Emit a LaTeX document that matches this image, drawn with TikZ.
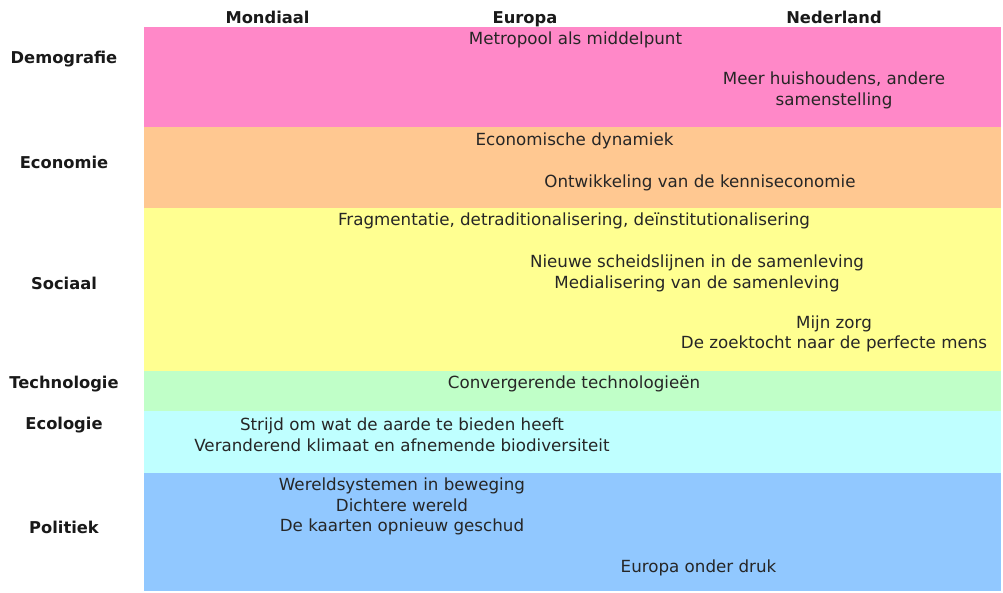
\documentclass[tikz,border=0pt]{standalone}
\usepackage{fontspec}
\setmainfont{DejaVu Sans}

\definecolor{demopink}{HTML}{FF88C8}
\definecolor{econorange}{HTML}{FFC891}
\definecolor{socyellow}{HTML}{FFFF91}
\definecolor{techgreen}{HTML}{C0FFC8}
\definecolor{ecocyan}{HTML}{BFFFFF}
\definecolor{polblue}{HTML}{91C8FF}

\begin{document}
\begin{tikzpicture}[x=1pt, y=-1pt,
    item/.style={font=\fontsize{16.7}{20.5}\selectfont, align=center, inner sep=0pt, text=black!85},
    head/.style={font=\bfseries\fontsize{16.3}{18}\selectfont, inner sep=0pt, text=black!90}]
	\useasboundingbox (0,0) rectangle (1003,592);
	
	% Coloured bands, one per theme
	\fill[demopink]   (144,27)  rectangle (1001,127);
	\fill[econorange] (144,127) rectangle (1001,208);
	\fill[socyellow]  (144,208) rectangle (1001,371);
	\fill[techgreen]  (144,371) rectangle (1001,411);
	\fill[ecocyan]    (144,411) rectangle (1001,473);
	\fill[polblue]    (144,473) rectangle (1001,591);
	
	% Column headers (on one baseline)
	\node[head, anchor=base] (mondiaal)  at (267.5,23) {Mondiaal};
	\node[head, anchor=base] (europa)    at (525,23)   {Europa};
	\node[head, anchor=base] (nederland) at (834,23)   {Nederland};
	
	% Row headers
	\node[head] (demografie)  at (64,59)  {Demografie};
	\node[head] (economie)    at (64,162) {Economie};
	\node[head] (sociaal)     at (64,283) {Sociaal};
	\node[head] (technologie) at (64,384) {Technologie};
	\node[head] (ecologie)    at (64,425) {Ecologie};
	\node[head] (politiek)    at (64,527) {Politiek};
	
	% Demografie
	\node[item] (metropool) at (575.5,40)  {Metropool als middelpunt};
	\node[item] (huishouden) at (834,90.5) {Meer huishoudens, andere\\samenstelling};
	
	% Economie
	\node[item] (dynamiek) at (574.5,141) {Economische dynamiek};
	\node[item] (kennis)   at (700,183)   {Ontwikkeling van de kenniseconomie};
	
	% Sociaal
	\node[item] (fragment) at (574,221)   {Fragmentatie, detraditionalisering, deïnstitutionalisering};
	\node[item] (scheids)  at (697,273.5) {Nieuwe scheidslijnen in de samenleving\\Medialisering van de samenleving};
	\node[item] (zorg)     at (834,334)   {Mijn zorg\\De zoektocht naar de perfecte mens};
	
	% Technologie
	\node[item] (converg) at (574,384) {Convergerende technologieën};
	
	% Ecologie
	\node[item] (aarde) at (402,435) {Strijd om wat de aarde te bieden heeft\\Veranderend klimaat en afnemende biodiversiteit};
	
	% Politiek
	\node[item] (wereld) at (402,506.5) {Wereldsystemen in beweging\\Dichtere wereld\\De kaarten opnieuw geschud};
	\node[item] (druk)   at (698.5,568) {Europa onder druk};
\end{tikzpicture}
\end{document}
